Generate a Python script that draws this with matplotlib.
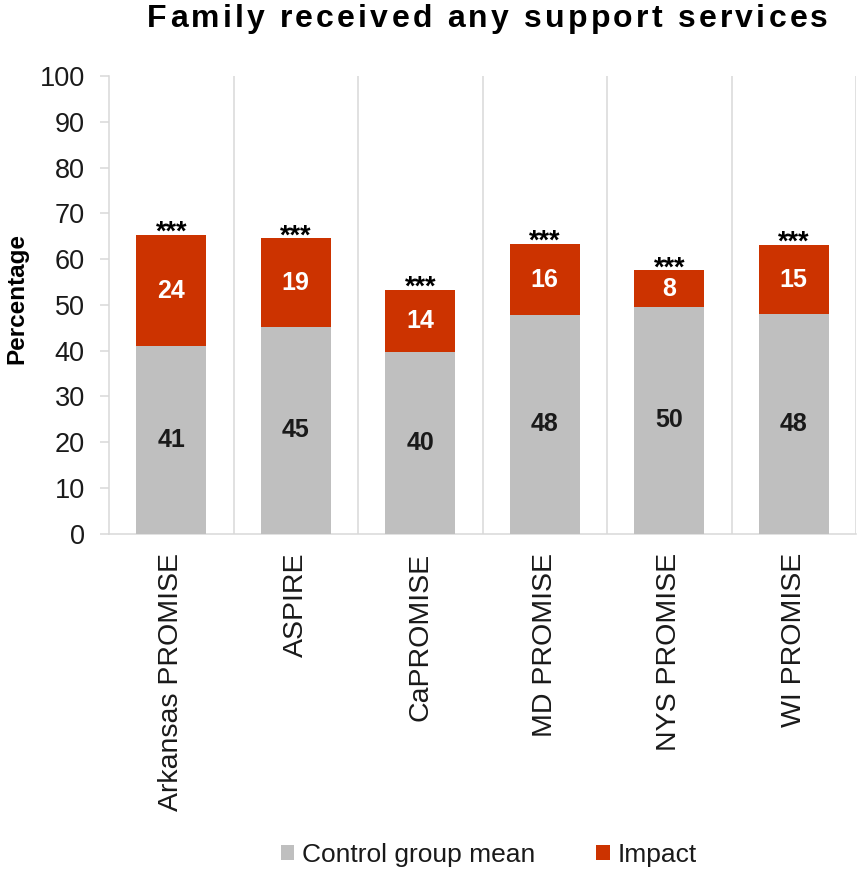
import matplotlib
matplotlib.use("Agg")
import matplotlib.pyplot as plt
from matplotlib import font_manager, ft2font
from matplotlib.font_manager import FontProperties
from matplotlib.patches import Patch
import numpy as np

plt.rcParams['font.family'] = ['Liberation Sans', 'DejaVu Sans']

# ---------------- data ----------------
categories = ["Arkansas PROMISE", "ASPIRE", "CaPROMISE", "MD PROMISE", "NYS PROMISE", "WI PROMISE"]
control_mean = [41.0, 45.2, 39.6, 47.7, 49.6, 47.9]
impact = [24.2, 19.3, 13.6, 15.6, 7.9, 15.1]
significance = ["***", "***", "***", "***", "***", "***"]
series_names = ["Control group mean", "Impact"]
title_text = "Family received any support services"
y_label = "Percentage"
y_ticks = [0, 10, 20, 30, 40, 50, 60, 70, 80, 90, 100]

# ---------------- style ----------------
W, H = 859, 871
GRAY = "#BFBFBF"
RED = "#CC3300"
GRID = "#D9D9D9"
TXT = "#1a1a1a"

fig = plt.figure(figsize=(W / 100, H / 100), dpi=100)
ax = fig.add_axes([109 / W, 1 - 533.5 / H, (856 - 109) / W, (533.5 - 76) / H])

x = np.arange(len(categories))
bw = 0.56
ax.bar(x, control_mean, width=bw, color=GRAY, zorder=3, label=series_names[0])
ax.bar(x, impact, width=bw, bottom=control_mean, color=RED, zorder=3, label=series_names[1])

for i in range(len(categories)):
    c = control_mean[i]
    d = impact[i]
    ax.text(x[i], c / 2, f"{c:.0f}", ha="center", va="center", fontsize=18,
            fontweight="bold", color=TXT, zorder=4)
    ax.text(x[i], c + d / 2, f"{d:.0f}", ha="center", va="center", fontsize=18,
            fontweight="bold", color="white", zorder=4)
    ax.annotate(significance[i], xy=(x[i], c + d), xytext=(0, -3.5),
                textcoords="offset points", ha="center", va="baseline",
                fontsize=19.5, fontweight="bold", color="black", zorder=5)

ax.set_xlim(-0.5, len(categories) - 0.5)
ax.set_ylim(0, 100)
ax.set_yticks(y_ticks)
ax.set_yticklabels([str(t) for t in y_ticks], fontsize=19.5, color=TXT)
ax.tick_params(axis="y", length=6.5, width=1.1, color=GRID, pad=11)
ax.set_xticks(x)
ax.set_xticklabels(categories, rotation=90, fontsize=20.5, color=TXT)
ax.tick_params(axis="x", length=0, pad=14)

# category separators
for b in np.arange(0.5, len(categories), 1.0):
    ax.axvline(b, color=GRID, lw=1.1, zorder=1)

for s in ["top", "right"]:
    ax.spines[s].set_visible(False)
for s in ["left", "bottom"]:
    ax.spines[s].set_color(GRID)
    ax.spines[s].set_linewidth(1.1)

# y label
fig.text(17 / W, 1 - 298 / H, y_label, rotation=90, ha="center", va="center",
         fontsize=17.5, fontweight="bold", color="black")


# letter-spaced title
def spaced_text(s, cx, baseline, prop, spacing, color):
    path = font_manager.findfont(prop)
    font = ft2font.FT2Font(path)
    font.set_size(prop.get_size_in_points(), fig.dpi)
    try:
        flag = ft2font.LoadFlags.NO_HINTING
    except AttributeError:
        flag = ft2font.LOAD_NO_HINTING
    advs = [font.load_char(ord(ch), flags=flag).linearHoriAdvance / 65536 for ch in s]
    total = sum(advs) + spacing * (len(s) - 1)
    px = cx - total / 2
    for ch, a in zip(s, advs):
        if ch != " ":
            fig.text(px / W, 1 - baseline / H, ch, fontproperties=prop,
                     ha="left", va="baseline", color=color)
        px += a + spacing


title_prop = FontProperties(family="Liberation Sans", weight="bold", size=23)
spaced_text(title_text, 487.5, 27, title_prop, 3.2, "black")

# legend
handles = [Patch(facecolor=GRAY, edgecolor="none"), Patch(facecolor=RED, edgecolor="none")]
fig.legend(handles, series_names, loc="center", bbox_to_anchor=(489 / W, 1 - 855 / H),
           ncol=2, frameon=False, fontsize=19, handlelength=0.5, handleheight=0.5,
           handletextpad=0.3, columnspacing=2.3, borderpad=0, labelcolor=TXT)

fig.savefig("out.png", dpi=100)
